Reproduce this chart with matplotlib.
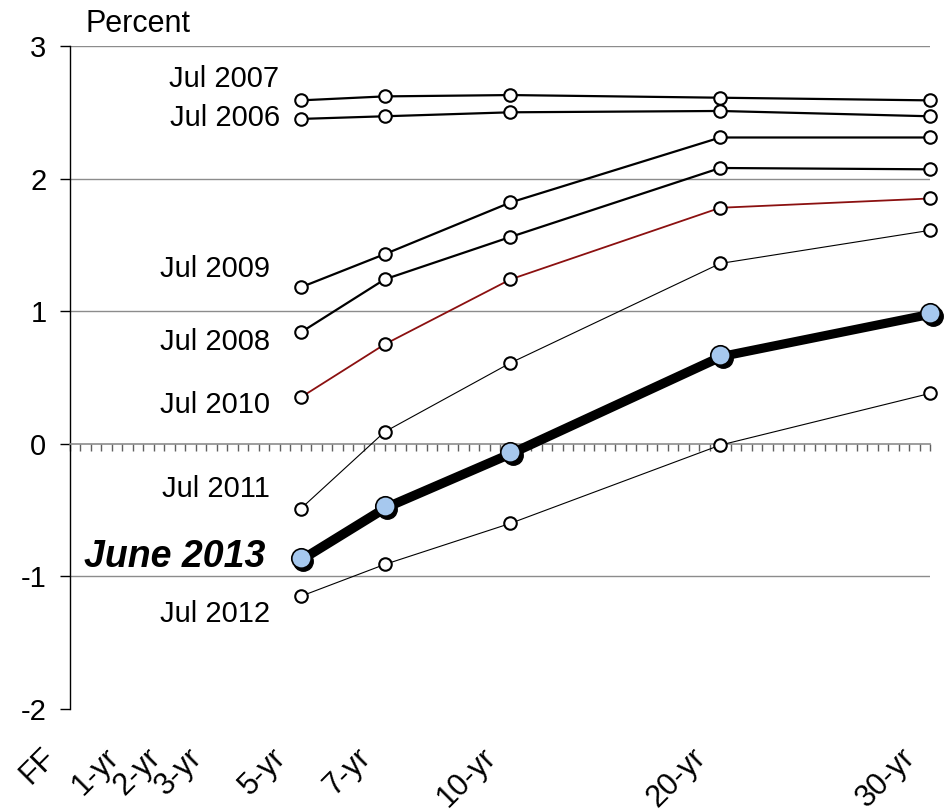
import matplotlib
matplotlib.use("Agg")
import matplotlib.pyplot as plt
import matplotlib.transforms as mtransforms
import numpy as np

plt.rcParams['font.family'] = ['Liberation Sans', 'DejaVu Sans']

# Maturity categories (years; FF = overnight fed funds)
maturity_labels = ["FF", "1-yr", "2-yr", "3-yr", "5-yr", "7-yr", "10-yr", "20-yr", "30-yr"]
maturity_years = [0, 1, 2, 3, 5, 7, 10, 20, 30]

# Curves are observed at 5, 7, 10, 20 and 30 years
curve_years = [5, 7, 10, 20, 30]

jul_2006 = [2.45, 2.47, 2.50, 2.51, 2.47]
jul_2007 = [2.59, 2.62, 2.63, 2.61, 2.59]
jul_2008 = [0.84, 1.24, 1.56, 2.08, 2.07]
jul_2009 = [1.18, 1.43, 1.82, 2.31, 2.31]
jul_2010 = [0.35, 0.75, 1.24, 1.78, 1.85]
jul_2011 = [-0.49, 0.09, 0.61, 1.36, 1.61]
jul_2012 = [-1.15, -0.91, -0.60, -0.01, 0.38]
june_2013 = [-0.86, -0.47, -0.06, 0.67, 0.99]


def axis_pos(years):
    """Quarterly spacing out to 10 years, half-year spacing beyond."""
    out = []
    for y in years:
        if y == 0:
            out.append(0.0)
        elif y <= 10:
            out.append(4 * y + 2)
        else:
            out.append(42 + 2 * (y - 10))
    return np.array(out, dtype=float)


W, H = 949, 811
fig = plt.figure(figsize=(W / 100, H / 100), dpi=100)
ax = fig.add_axes([70 / W, 1 - 709 / H, 860 / W, 663 / H])

ax.set_xlim(0, 82)
ax.set_ylim(-2, 3)

xs = axis_pos(curve_years)

# gridlines
for g in [3, 2, 1, -1]:
    ax.axhline(g, color="#8c8c8c", lw=1.0, zorder=1)

thin = dict(marker="o", markerfacecolor="white", markeredgecolor="black",
            markeredgewidth=1.5, markersize=9, zorder=3, clip_on=False)

ax.plot(xs, jul_2007, color="black", lw=1.6, **thin)
ax.plot(xs, jul_2006, color="black", lw=1.6, **thin)
ax.plot(xs, jul_2009, color="black", lw=1.6, **thin)
ax.plot(xs, jul_2008, color="black", lw=1.6, **thin)
ax.plot(xs, jul_2010, color="#8b1010", lw=1.3, **thin)
ax.plot(xs, jul_2011, color="black", lw=0.8, **thin)
ax.plot(xs, jul_2012, color="black", lw=0.8, **thin)

# June 2013 with drop shadow
shadow = mtransforms.offset_copy(ax.transData, fig=fig, x=2.5, y=-3, units="dots")
ax.plot(xs, june_2013, color="black", lw=4.2, marker="o", markersize=14,
        markerfacecolor="black", markeredgecolor="black", transform=shadow,
        zorder=4, clip_on=False)
ax.plot(xs, june_2013, color="black", lw=4.0, marker="o", markersize=14,
        markerfacecolor="#a6c8ee", markeredgecolor="black", markeredgewidth=1.2,
        zorder=5, clip_on=False)

# series labels
fs = 21
lab = dict(ha="right", va="center", fontsize=fs, color="black")
ax.text(19.9, 2.75, "Jul 2007", **lab)
ax.text(20.0, 2.46, "Jul 2006", **lab)
ax.text(19.1, 1.32, "Jul 2009", **lab)
ax.text(19.1, 0.77, "Jul 2008", **lab)
ax.text(19.1, 0.29, "Jul 2010", **lab)
ax.text(19.1, -0.34, "Jul 2011", **lab)
ax.text(19.1, -1.28, "Jul 2012", **lab)
ax.text(18.6, -0.85, "June 2013", ha="right", va="center", fontsize=27,
        fontweight="bold", fontstyle="italic", color="black")

# axes styling
for s in ["top", "right"]:
    ax.spines[s].set_visible(False)
ax.spines["left"].set_color("black")
ax.spines["left"].set_linewidth(1.0)
ax.spines["bottom"].set_position(("data", 0))
ax.spines["bottom"].set_color("#8c8c8c")
ax.spines["bottom"].set_linewidth(1.2)

ax.set_xticks(np.arange(0, 83, 1))
ax.set_xticklabels([])
ax.tick_params(axis="x", direction="out", length=5, width=1.0, color="#606060")

ax.set_yticks([-2, -1, 0, 1, 2, 3])
ax.set_yticklabels(["-2", "-1", "0", "1", "2", "3"], fontsize=fs)
ax.tick_params(axis="y", direction="out", length=7, width=1.0, color="black", pad=10)

# maturity labels along the bottom
blend = mtransforms.blended_transform_factory(ax.transData, ax.transAxes)
for name, pos in zip(maturity_labels, axis_pos(maturity_years)):
    ax.text(pos - 1.8, -0.066, name, transform=blend, rotation=45,
            rotation_mode="anchor", ha="right", va="center", fontsize=fs + 1)

fig.text(85 / W, 1 - 24 / H, "Percent", ha="left", va="center", fontsize=22)

fig.savefig("out.png", dpi=100)
